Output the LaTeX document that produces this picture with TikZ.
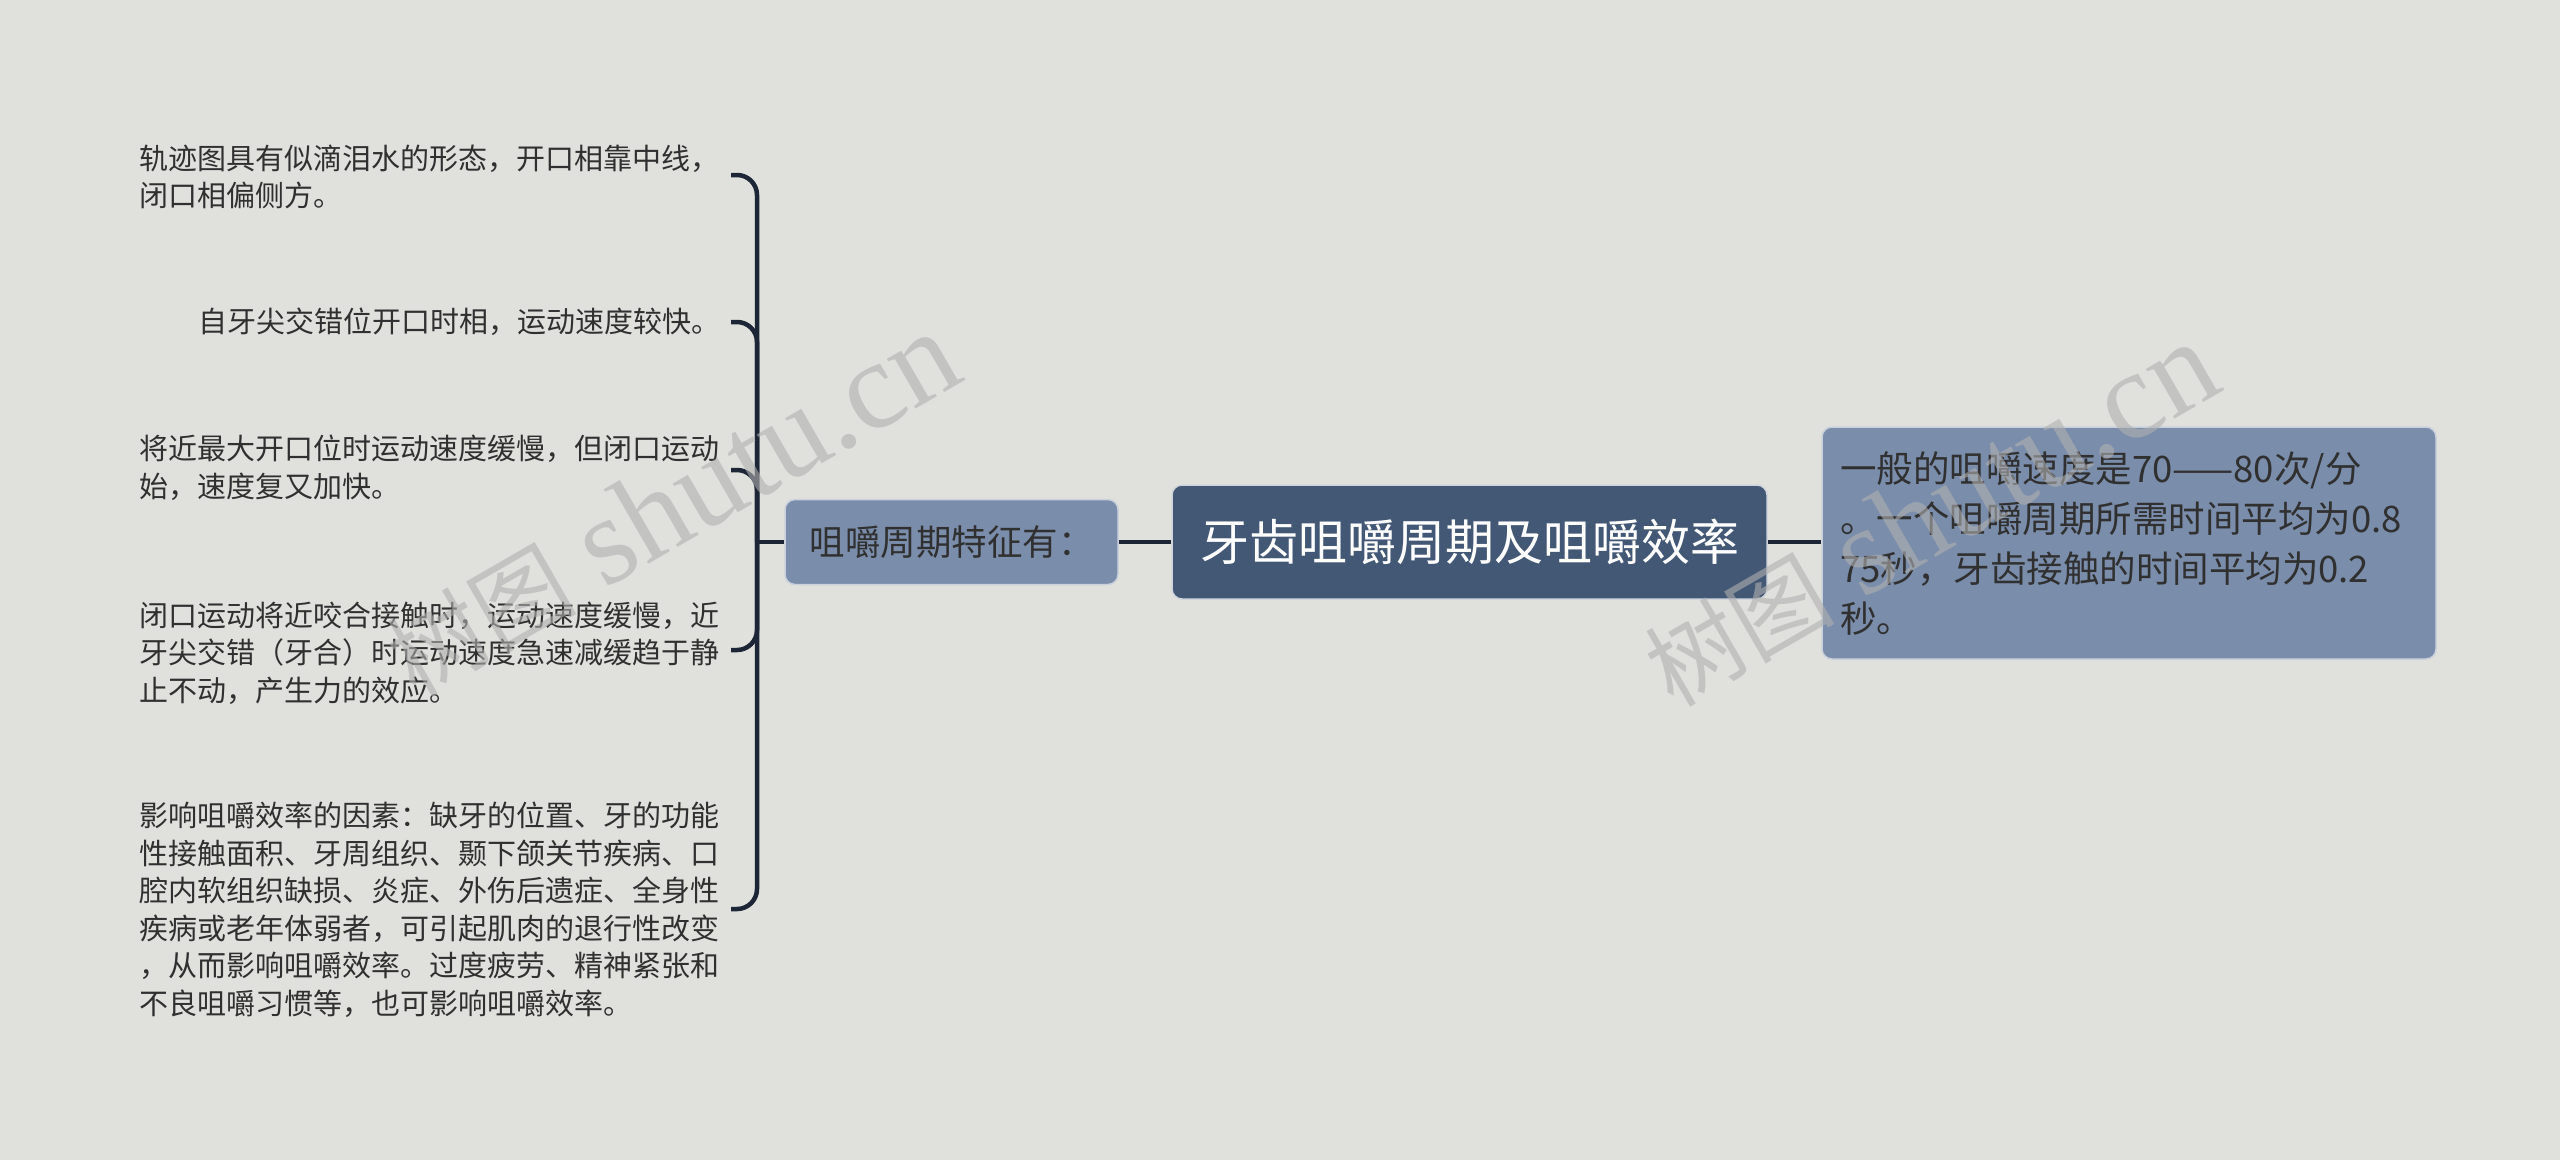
\documentclass[tikz,border=0pt]{standalone}
\usepackage{fontspec}
\setmainfont{Noto Sans CJK SC}
\newfontfamily\cjk{Noto Sans CJK SC}
\newfontfamily\wmserif{Liberation Serif}
\definecolor{bgc}{HTML}{E0E1DC}
\definecolor{rootc}{HTML}{435875}
\definecolor{subc}{HTML}{7A8DAB}
\definecolor{linec}{HTML}{1D2636}
\definecolor{txtc}{HTML}{303030}
\definecolor{wmc}{HTML}{B0B0B0}
\tikzset{
  rootbox/.style={rectangle, rounded corners=10pt, fill=rootc, draw=white!75!rootc, line width=1.5pt,
    text=white, font=\cjk\fontsize{49}{56}\selectfont, minimum width=595pt, minimum height=114pt, inner sep=0pt},
  subbox/.style={rectangle, rounded corners=10pt, fill=subc, draw=white!60!subc, line width=1.5pt,
    text=txtc, inner sep=0pt},
  leaftext/.style={anchor=west, align=left, text=txtc, inner sep=0pt,
    font=\cjk\fontsize{29}{37.5}\selectfont},
  conn/.style={draw=linec, line width=4.5pt},
  wmark/.style={text=wmc, opacity=0.6, rotate=30, inner sep=0pt}
}
\begin{document}
\begin{tikzpicture}[x=1pt,y=-1pt]
\useasboundingbox (0,0) rectangle (2560,1160);
\fill[bgc] (0,0) rectangle (2560,1160);

% main nodes
\node[rootbox] (C) at (1469.5,542) {牙齿咀嚼周期及咀嚼效率};
\node[subbox, minimum width=333pt, minimum height=85pt, font=\cjk\fontsize{35.5}{42}\selectfont] (L) at (951.5,542) {咀嚼周期特征有：};
\node[subbox, minimum width=614pt, minimum height=232pt, text width=578pt, inner xsep=18pt, align=left,
      font=\cjk\fontsize{36.5}{50}\selectfont] (R) at (2129,543)
  {一般的咀嚼速度是70——80次/分\\。一个咀嚼周期所需时间平均为0.8\\75秒，牙齿接触的时间平均为0.2\\秒。};

% leaf texts
\node[leaftext] (t1) at (139,177) {轨迹图具有似滴泪水的形态，开口相靠中线，\\闭口相偏侧方。};
\node[leaftext] (t2) at (198,322) {自牙尖交错位开口时相，运动速度较快。};
\node[leaftext] (t3) at (139,468) {将近最大开口位时运动速度缓慢，但闭口运动\\始，速度复又加快。};
\node[leaftext] (t4) at (139,653) {闭口运动将近咬合接触时，运动速度缓慢，近\\牙尖交错（牙合）时运动速度急速减缓趋于静\\止不动，产生力的效应。};
\node[leaftext] (t5) at (139,910) {影响咀嚼效率的因素：缺牙的位置、牙的功能\\性接触面积、牙周组织、颞下颌关节疾病、口\\腔内软组织缺损、炎症、外伤后遗症、全身性\\疾病或老年体弱者，可引起肌肉的退行性改变\\，从而影响咀嚼效率。过度疲劳、精神紧张和\\不良咀嚼习惯等，也可影响咀嚼效率。};

% connectors
\coordinate (tr) at (757,542);
\coordinate (b1) at (731,175);
\coordinate (b2) at (731,322);
\coordinate (b3) at (731,470);
\coordinate (b4) at (731,650);
\coordinate (b5) at (731,909);
\draw[conn] (C.west) -- (L.east);
\draw[conn] (C.east) -- (C.east -| R.west);
\draw[conn] (L.west) -- (tr);
\foreach \b in {b1,b2,b3,b4,b5}{
  \draw[conn, rounded corners=20pt] (tr) |- (\b);
}

% watermarks
\node[wmark] (w1) at (672,505) {{\cjk\fontsize{95}{95}\selectfont 树图}\hspace{28pt}{\wmserif\fontsize{125}{125}\selectfont shutu.cn}};
\node[wmark] (w2) at (1930,515) {{\cjk\fontsize{95}{95}\selectfont 树图}\hspace{28pt}{\wmserif\fontsize{125}{125}\selectfont shutu.cn}};
\end{tikzpicture}
\end{document}
